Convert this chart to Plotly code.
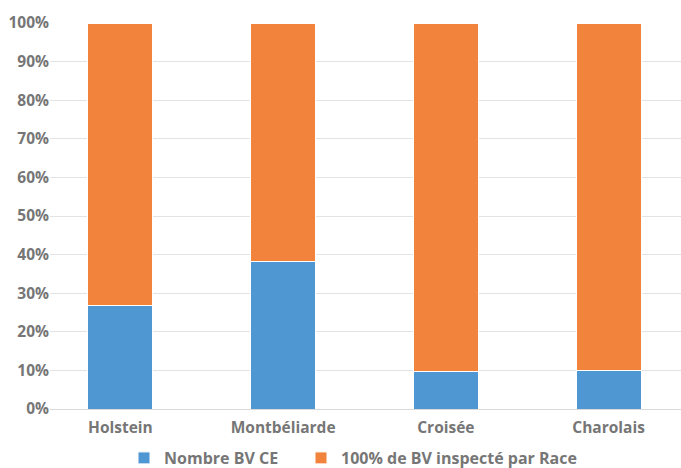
import plotly.graph_objects as go

# Breeds on the category axis
races = ["Holstein", "Montbéliarde", "Croisée", "Charolais"]

# Share of BV CE per breed (%)
nombre_bv_ce = [26.8, 38.3, 9.6, 9.9]

# Remainder up to 100% of inspected BV per breed (%)
bv_inspecte = [73.2, 61.7, 90.4, 90.1]

# Y-axis ticks
y_ticks = [0, 10, 20, 30, 40, 50, 60, 70, 80, 90, 100]
y_tick_labels = [f"{v}%" for v in y_ticks]

BLUE = "#4F97D3"
ORANGE = "#F2833C"
TEXT = "#767676"
FONT = "Open Sans"

fig = go.Figure()
fig.add_trace(go.Bar(
    x=races, y=nombre_bv_ce, name="Nombre BV CE",
    marker=dict(color=BLUE, line=dict(color="white", width=1)),
    legend="legend",
))
fig.add_trace(go.Bar(
    x=races, y=bv_inspecte, name="100% de BV inspecté par Race",
    marker=dict(color=ORANGE, line=dict(color="white", width=1)),
    legend="legend2",
))

legend_style = dict(
    orientation="h",
    xref="container", yref="container",
    xanchor="left",
    y=1 - 458 / 468, yanchor="middle",
    font=dict(family=FONT, size=16, color=TEXT, weight="bold"),
    itemwidth=30,
    bgcolor="rgba(0,0,0,0)",
)

fig.update_layout(
    width=681, height=468,
    margin=dict(l=50, r=0, t=23, b=59, autoexpand=False),
    barmode="stack",
    bargap=0.6,
    plot_bgcolor="white",
    paper_bgcolor="white",
    font=dict(family=FONT, size=15, color=TEXT, weight="bold"),
    showlegend=True,
    legend=dict(legend_style, x=124 / 681),
    legend2=dict(legend_style, x=301 / 681),
)

fig.update_xaxes(
    type="category",
    range=[-0.4325, 3.445],
    automargin=False,
    showgrid=False,
    showline=True, linecolor="#d9d9d9", linewidth=1,
    ticks="",
    ticklabelstandoff=4,
    tickfont=dict(family=FONT, size=15.5, color=TEXT, weight="bold"),
)

fig.update_yaxes(
    range=[0, 100],
    automargin=False,
    tickvals=y_ticks, ticktext=y_tick_labels,
    showgrid=True, gridcolor="#e3e3e3", gridwidth=1,
    zeroline=False,
    showline=False,
    ticks="",
    ticklabelstandoff=0,
    tickfont=dict(family=FONT, size=15.5, color=TEXT, weight="bold"),
)

fig.write_html("out.html")
